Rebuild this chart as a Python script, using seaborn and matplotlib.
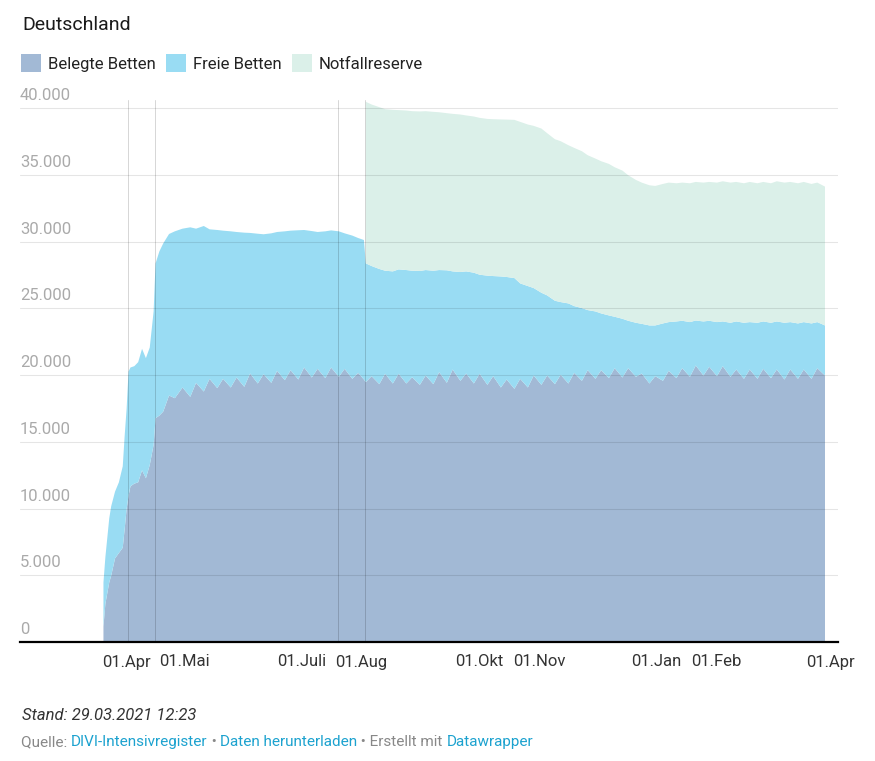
import numpy as np
import pandas as pd
import matplotlib
matplotlib.use("Agg")
import matplotlib.pyplot as plt
import seaborn as sns
from matplotlib.patches import Patch
from matplotlib.offsetbox import TextArea, HPacker, AnchoredOffsetbox
from matplotlib.transforms import ScaledTranslation

# ---------------- data ----------------
dates = [
    "2020-03-20", "2020-03-21", "2020-03-23", "2020-03-24", "2020-03-26", "2020-03-28",
    "2020-03-30", "2020-03-31", "2020-04-01", "2020-04-02", "2020-04-03", "2020-04-05",
    "2020-04-07", "2020-04-09", "2020-04-11", "2020-04-13", "2020-04-15", "2020-04-16",
    "2020-04-18", "2020-04-20", "2020-04-23", "2020-04-26",
    "2020-04-30", "2020-05-04", "2020-05-07", "2020-05-11", "2020-05-14", "2020-05-18",
    "2020-05-21", "2020-05-25", "2020-05-28", "2020-06-01", "2020-06-04", "2020-06-08",
    "2020-06-11", "2020-06-15", "2020-06-18", "2020-06-22", "2020-06-25", "2020-06-29",
    "2020-07-02", "2020-07-06", "2020-07-09", "2020-07-13", "2020-07-16", "2020-07-20",
    "2020-07-23", "2020-07-27", "2020-07-30", "2020-08-02",
    "2020-08-03", "2020-08-06", "2020-08-10", "2020-08-13", "2020-08-17", "2020-08-20",
    "2020-08-24", "2020-08-27", "2020-08-31", "2020-09-03", "2020-09-07", "2020-09-10",
    "2020-09-14", "2020-09-17", "2020-09-21", "2020-09-24", "2020-09-28", "2020-10-01",
    "2020-10-05", "2020-10-08", "2020-10-12", "2020-10-15", "2020-10-19", "2020-10-22",
    "2020-10-26", "2020-10-29", "2020-11-02", "2020-11-05", "2020-11-09", "2020-11-12",
    "2020-11-16", "2020-11-19", "2020-11-23", "2020-11-26", "2020-11-30", "2020-12-03",
    "2020-12-07", "2020-12-10", "2020-12-14", "2020-12-17", "2020-12-21", "2020-12-24",
    "2020-12-28", "2020-12-31", "2021-01-04", "2021-01-07", "2021-01-11", "2021-01-14",
    "2021-01-18", "2021-01-21", "2021-01-25", "2021-01-28", "2021-02-01", "2021-02-04",
    "2021-02-08", "2021-02-11", "2021-02-15", "2021-02-18", "2021-02-22", "2021-02-25",
    "2021-03-01", "2021-03-04", "2021-03-08", "2021-03-11", "2021-03-15", "2021-03-18",
    "2021-03-22", "2021-03-25", "2021-03-29",
]

belegte_betten = [
    1200, 2900, 4500, 5000, 6300, 6700,
    7100, 8500, 10000, 11000, 11700, 11900,
    12000, 12900, 12300, 13300, 14800, 16800,
    17000, 17300, 18500, 18300,
    19100, 18400, 19450, 18800, 19750, 19050,
    19750, 19100, 19850, 19150, 20150, 19400,
    20100, 19450, 20350, 19650, 20400, 19700,
    20600, 19850, 20500, 19800, 20600, 19900,
    20500, 19750, 20200, 19700,
    19500, 19950, 19350, 20130, 19400, 20130,
    19400, 19870, 19300, 20000, 19350, 20250,
    19450, 20450, 19600, 20150, 19400, 20130,
    19300, 19950, 19100, 19700, 19000, 19750,
    19100, 20000, 19300, 20000, 19350, 20050,
    19400, 20200, 19600, 20400, 19750, 20400,
    19800, 20550, 19850, 20550, 19900, 20150,
    19400, 19950, 19600, 20350, 19800, 20550,
    19900, 20750, 20000, 20650, 19950, 20700,
    19900, 20450, 19750, 20450, 19750, 20500,
    19800, 20450, 19700, 20450, 19750, 20450,
    19750, 20550, 20000,
]

freie_betten = [
    3300, 3500, 4800, 5200, 5000, 5300,
    6100, 7000, 7500, 9300, 8900, 8800,
    9000, 9100, 9000, 8800, 10000, 11600,
    12300, 12600, 12100, 12500,
    11900, 12700, 11550, 12400, 11200, 11850,
    11100, 11700, 10900, 11550, 10530, 11220,
    10480, 11200, 10400, 11150, 10450, 11180,
    10300, 10970, 10250, 11000, 10270, 10900,
    10150, 10730, 10100, 10450,
    8900, 8250, 8630, 7720, 8400, 7820,
    8500, 7980, 8530, 7900, 8500, 7650,
    8430, 7350, 8150, 7650, 8300, 7420,
    8180, 7500, 8320, 7680, 8300, 7150,
    7600, 6550, 6900, 6000, 6250, 5450,
    6000, 5000, 5450, 4500, 5050, 4250,
    4700, 3850, 4400, 3550, 4050, 3720,
    4350, 3800, 4300, 3650, 4250, 3550,
    4100, 3370, 4050, 3450, 4050, 3350,
    4050, 3600, 4200, 3550, 4200, 3550,
    4150, 3600, 4250, 3550, 4150, 3550,
    4150, 3450, 3750,
]

nan = np.nan
notfallreserve = [nan] * 50 + [
    12100, 12100, 12120, 12100, 12100, 11930,
    11950, 11950, 11950, 11900, 11900, 11820,
    11770, 11800, 11800, 11680, 11700, 11750,
    11740, 11750, 11760, 11790, 11850, 12100,
    12100, 12150, 12300, 12150, 12100, 12050,
    11850, 11850, 11750, 11600, 11450, 11400,
    11350, 11200, 11100, 10900, 10700, 10580,
    10500, 10450, 10450, 10450, 10350, 10350,
    10400, 10380, 10400, 10400, 10450, 10500,
    10500, 10450, 10450, 10500, 10450, 10450,
    10450, 10500, 10500, 10500, 10500, 10500,
    10450, 10450, 10400,
]

series_labels = ["Belegte Betten", "Freie Betten", "Notfallreserve"]
series_colors = ["#a2b9d5", "#99dcf3", "#dbf0e9"]

y_ticks = [0, 5000, 10000, 15000, 20000, 25000, 30000, 35000, 40000]
y_tick_labels = ["0", "5.000", "10.000", "15.000", "20.000", "25.000", "30.000", "35.000", "40.000"]

x_ticks = ["2020-04-01", "2020-05-01", "2020-07-01", "2020-08-01", "2020-10-01",
           "2020-11-01", "2021-01-01", "2021-02-01", "2021-04-01"]
x_tick_labels = ["01.Apr", "01.Mai", "01.Juli", "01.Aug", "01.Okt", "01.Nov",
                 "01.Jan", "01.Feb", "01.Apr"]

marker_lines = ["2020-04-02", "2020-04-16", "2020-07-20", "2020-08-03"]

df = pd.DataFrame({
    "datum": pd.to_datetime(dates),
    "belegt": belegte_betten,
    "frei": freie_betten,
    "reserve": notfallreserve,
})

# ---------------- style ----------------
sns.set_theme(style="white")
plt.rcParams["font.family"] = ["Roboto", "DejaVu Sans"]

W, H = 875, 761
fig = plt.figure(figsize=(W / 100, H / 100), dpi=100)
ax = fig.add_axes([20 / W, 1 - 642 / H, 818 / W, 542 / H])

x = df["datum"]
b = df["belegt"].to_numpy(dtype=float)
f = df["frei"].to_numpy(dtype=float)
r = df["reserve"].to_numpy(dtype=float)

ax.fill_between(x, 0, b, color=series_colors[0], lw=0, zorder=1)
ax.fill_between(x, b, b + f, color=series_colors[1], lw=0, zorder=1)
ax.fill_between(x, b + f, b + f + r, color=series_colors[2], lw=0, zorder=1)

ax.set_xlim(pd.Timestamp("2020-02-06"), pd.Timestamp("2021-04-05"))
ax.set_ylim(0, 40600)

# horizontal grid on top of areas
for v in y_ticks[1:]:
    ax.axhline(v, color="black", alpha=0.1, lw=0.8, zorder=3)
for d in marker_lines:
    ax.axvline(pd.Timestamp(d), color="black", alpha=0.16, lw=0.7, zorder=3)

for s in ["left", "right", "top"]:
    ax.spines[s].set_visible(False)
ax.spines["bottom"].set_color("black")
ax.spines["bottom"].set_linewidth(1.6)
ax.spines["bottom"].set_zorder(4)

ax.set_yticks(y_ticks)
ax.set_yticklabels(y_tick_labels)
ax.tick_params(axis="y", length=0, pad=0, labelsize=12, labelcolor="#aaaaaa")
shift = ScaledTranslation(0, 3.5 / 72, fig.dpi_scale_trans)
for lab in ax.get_yticklabels():
    lab.set_horizontalalignment("left")
    lab.set_verticalalignment("bottom")
    lab.set_transform(lab.get_transform() + shift)

ax.set_xticks(pd.to_datetime(x_ticks))
ax.set_xticklabels(x_tick_labels)
ax.tick_params(axis="x", length=0, pad=9, labelsize=12, labelcolor="#333333")
ax.set_xlabel("")
ax.set_ylabel("")
ax.grid(False)
ax.patch.set_alpha(0)

# title
fig.text(22 / W, 1 - 25 / H, "Deutschland", fontsize=14, color="#1a1a1a",
         ha="left", va="center")

# legend
handles = [Patch(facecolor=c, edgecolor="none") for c in series_colors]
fig.legend(handles, series_labels, loc="center left",
           bbox_to_anchor=(21 / W, 1 - 63 / H), ncol=3, frameon=False,
           fontsize=12, handlelength=1.2, handleheight=1.2, handletextpad=0.4,
           columnspacing=0.65, borderpad=0, borderaxespad=0,
           labelcolor="#222222")

# footer
fig.text(22 / W, 1 - 715 / H, "Stand: 29.03.2021 12:23", fontsize=12,
         style="italic", color="#333333", ha="left", va="center")

gray = "#888888"
blue = "#1ca2cf"
parts = [("Quelle: ", gray), ("DIVI-Intensivregister", blue), (" \u2022 ", gray),
         ("Daten herunterladen", blue), (" \u2022 Erstellt mit ", gray), ("Datawrapper", blue)]
boxes = [TextArea(t, textprops=dict(color=c, fontsize=11,
                                    family=["Roboto", "DejaVu Sans"]))
         for t, c in parts]
pack = HPacker(children=boxes, sep=0, pad=0, align="baseline")
anch = AnchoredOffsetbox(loc="center left", child=pack, pad=0, borderpad=0,
                         frameon=False, bbox_to_anchor=(21 / W, 1 - 742 / H),
                         bbox_transform=fig.transFigure)
fig.add_artist(anch)

fig.savefig("out.png", dpi=100)
